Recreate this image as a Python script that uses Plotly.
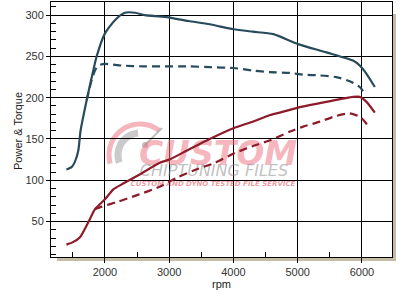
import plotly.graph_objects as go
import math

# ---- data ----
power_rpm = [1400, 1480, 1530, 1585, 1620, 1715, 1795, 1870, 2000, 2155, 2310, 2470, 2620, 2930,
             3300, 3630, 4000, 4300, 4620, 5005, 5445, 5860, 5965, 6070, 6200]
power_tuned = [113, 116, 122, 136, 160, 197, 225, 250, 278, 294, 303, 303, 300, 298,
               293, 289, 283, 280, 277, 265, 255, 245, 239, 229, 213]

power_stock_rpm = [1715, 1795, 1850, 1895, 2000, 2260, 2600, 2930, 3300, 3630, 4000, 4300,
                   4570, 4880, 5085, 5345, 5600, 5810, 5965, 6045]
power_stock = [197, 222, 234, 239, 241, 239, 238, 238, 238, 237, 236, 233,
               231, 230, 228, 227, 225, 220, 213, 205]

torque_rpm = [1400, 1500, 1611, 1740, 1845, 2000, 2130, 2260, 2518, 2845, 3000, 3300, 3630,
              4000, 4300, 4570, 4720, 5005, 5445, 5860, 5965, 6070, 6200]
torque_tuned = [22, 25, 31, 49, 65, 77, 89, 95, 106, 121, 125, 137, 150,
                163, 171, 179, 182, 188, 195, 201, 201, 195, 182]

torque_stock_rpm = [1845, 1950, 2200, 2500, 2850, 3115, 3450, 3710, 4020, 4360, 4590, 4880,
                    5085, 5345, 5600, 5810, 5965, 6045, 6120]
torque_stock = [65, 68, 74, 82, 92, 103, 114, 121, 133, 143, 149, 159,
                165, 171, 178, 181, 177, 171, 163]

x_ticks = [2000, 3000, 4000, 5000, 6000]
y_ticks = [50, 100, 150, 200, 250, 300]

BLUE = "#284b5c"
RED = "#8e1b2a"

# layout geometry (pixels)
W, H = 414, 303
ML, MR, MT, MB = 51, 22, 2, 46
PW, PH = W - ML - MR, H - MT - MB


def px2paper(px, py):
    return (px - ML) / PW, (H - MB - py) / PH


def px2data(px, py):
    return 2000 + (px - 105) / 0.06425, 300 - (py - 15) / 0.824


fig = go.Figure()

# watermark text (drawn first so curves sit on top)
wx, wy = px2data(218, 156)
fig.add_trace(go.Scatter(x=[wx], y=[wy], mode="text", text=["<b><i>CUSTOM</i></b>"],
                         textfont=dict(family="DejaVu Sans", size=33, color="rgba(238,120,132,0.55)"),
                         hoverinfo="skip", showlegend=False))
wx, wy = px2data(214, 172)
fig.add_trace(go.Scatter(x=[wx], y=[wy], mode="text", text=["<i>CHIPTUNING FILES</i>"],
                         textfont=dict(family="DejaVu Sans", size=16, color="rgba(140,140,140,0.55)"),
                         hoverinfo="skip", showlegend=False))
wx, wy = px2data(213, 184)
fig.add_trace(go.Scatter(x=[wx], y=[wy], mode="text",
                         text=["<b><i>CUSTOM AND DYNO TESTED FILE SERVICE</i></b>"],
                         textfont=dict(family="DejaVu Sans", size=7, color="rgba(225,50,65,0.5)"),
                         hoverinfo="skip", showlegend=False))

# curves
fig.add_trace(go.Scatter(x=power_rpm, y=power_tuned, mode="lines",
                         line=dict(color=BLUE, width=2.2, shape="spline", smoothing=0.6),
                         showlegend=False))
fig.add_trace(go.Scatter(x=power_stock_rpm, y=power_stock, mode="lines",
                         line=dict(color=BLUE, width=2.2, dash="8px,5px", shape="spline", smoothing=0.6),
                         showlegend=False))
fig.add_trace(go.Scatter(x=torque_rpm, y=torque_tuned, mode="lines",
                         line=dict(color=RED, width=2.2, shape="spline", smoothing=0.6),
                         showlegend=False))
fig.add_trace(go.Scatter(x=torque_stock_rpm, y=torque_stock, mode="lines",
                         line=dict(color=RED, width=2.2, dash="8px,5px", shape="spline", smoothing=0.6),
                         showlegend=False))


def arc_path(cx, cy, r, a0, a1, n=40):
    pts = []
    for i in range(n + 1):
        a = math.radians(a0 + (a1 - a0) * i / n)
        px = cx + r * math.cos(a)
        py = cy - r * math.sin(a)
        pts.append(px2paper(px, py))
    return "M " + " L ".join(f"{x:.4f},{y:.4f}" for x, y in pts)


shapes = [
    # frame shadow
    dict(type="rect", xref="paper", yref="paper", x0=1, x1=1 + 4 / PW, y0=-4 / PH, y1=1 - 12 / PH,
         fillcolor="#c4bca4", line=dict(width=0), layer="below"),
    dict(type="rect", xref="paper", yref="paper", x0=6 / PW, x1=1 + 4 / PW, y0=-4 / PH, y1=0,
         fillcolor="#c4bca4", line=dict(width=0), layer="below"),
    # watermark gauge
    dict(type="path", xref="paper", yref="paper", path=arc_path(140, 155, 31, 52, 196),
         line=dict(color="rgba(238,120,132,0.55)", width=5), layer="below"),
    dict(type="path", xref="paper", yref="paper", path=arc_path(140, 155, 22, 95, 200),
         line=dict(color="rgba(150,150,150,0.5)", width=7), layer="below"),
]
x0, y0 = px2paper(145, 145)
x1, y1 = px2paper(162, 128)
shapes.append(dict(type="line", xref="paper", yref="paper", x0=x0, y0=y0, x1=x1, y1=y1,
                   line=dict(color="rgba(150,150,150,0.6)", width=2), layer="below"))
cx0, cy0 = px2paper(142, 148)
cx1, cy1 = px2paper(148, 142)
shapes.append(dict(type="circle", xref="paper", yref="paper", x0=cx0, y0=cy0, x1=cx1, y1=cy1,
                   fillcolor="rgba(150,150,150,0.6)", line=dict(width=0), layer="below"))

tickfont = dict(family="Liberation Sans, Arial", size=11, color="#333333")

fig.update_layout(
    width=W, height=H,
    margin=dict(l=ML, r=MR, t=MT, b=MB, pad=0),
    paper_bgcolor="white", plot_bgcolor="white",
    shapes=shapes,
    xaxis=dict(range=[1160, 6467], tickvals=x_ticks, ticktext=[str(v) for v in x_ticks],
               showgrid=True, gridcolor="black", gridwidth=1,
               ticks="outside", ticklen=5, tickcolor="black", tickfont=tickfont,
               showline=True, linecolor="black", linewidth=1, mirror=True, zeroline=False,
               minor=dict(dtick=500, tick0=1500, ticks="inside", ticklen=5, tickcolor="black",
                          showgrid=False),
               fixedrange=True),
    yaxis=dict(range=[7, 316], tickvals=y_ticks, ticktext=[str(v) for v in y_ticks],
               showgrid=True, gridcolor="black", gridwidth=1,
               ticks="outside", ticklen=4, tickcolor="black", tickfont=tickfont,
               showline=True, linecolor="black", linewidth=1, mirror=True, zeroline=False,
               minor=dict(dtick=10, tick0=0, ticks="inside", ticklen=5, tickcolor="black",
                          showgrid=False),
               fixedrange=True),
    annotations=[
        dict(text="Power & Torque", xref="paper", yref="paper",
             x=(18 - ML) / PW, y=(H - MB - 131) / PH, textangle=-90, showarrow=False,
             xanchor="center", yanchor="middle",
             font=dict(family="Liberation Sans, Arial", size=11, color="#222222")),
        dict(text="rpm", xref="paper", yref="paper",
             x=(221 - ML) / PW, y=(H - MB - 284) / PH, showarrow=False,
             xanchor="center", yanchor="middle",
             font=dict(family="Liberation Sans, Arial", size=11, color="#222222")),
    ],
)

fig.write_html("out.html")
